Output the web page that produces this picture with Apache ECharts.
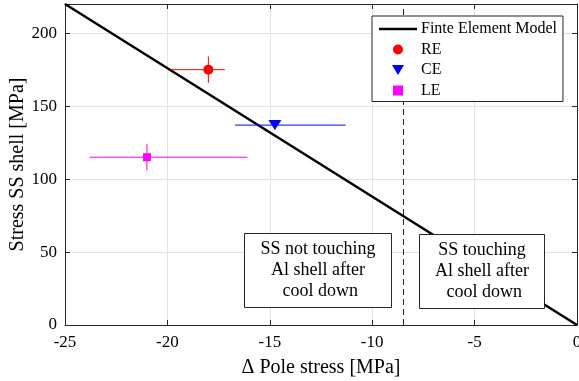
<!DOCTYPE html>
<html>
<head>
<meta charset="utf-8">
<script src="https://cdn.jsdelivr.net/npm/echarts@6/dist/echarts.min.js"></script>
<style>html,body{margin:0;padding:0;background:#fff;}#c{width:579px;height:381px;}</style>
</head>
<body>
<div id="c"></div>
<script>
// ---- data ----
const seriesNames = ['RE', 'CE', 'LE'];
const seriesColors = ['#ff0000', '#0000ff', '#ff00ff'];
const pointX = [-18, -14.75, -21];
const pointY = [175, 137, 115];
const xErrLow = [-19.8, -16.7, -23.8];
const xErrHigh = [-17.2, -11.3, -16.1];
const yErrLow = [166, 134, 106];
const yErrHigh = [184, 140, 124];
const modelName = 'Finte Element Model';
const modelX = [-25, 0];
const modelY = [220, 0];
const boundaryX = -8.5;
const xTickValues = [-25, -20, -15, -10, -5, 0];
const yTickValues = [0, 50, 100, 150, 200];
const xTitle = '\u0394 Pole stress [MPa]';
const yTitle = 'Stress SS shell [MPa]';
const noteLeft = 'SS not touching\nAl shell after\n cool down';
const noteRight = 'SS touching\nAl shell after\n cool down';

const FONT = 'Liberation Serif';
const AX = '#262626';
const chart = echarts.init(document.getElementById('c'), null, {renderer: 'canvas'});

const symbols = ['circle', 'triangle', 'rect'];
const symbolSizes = [10, [13, 10], 8];
const symbolRot = [0, 180, 0];

const series = [];
series.push({
  name: modelName, type: 'line', symbol: 'none',
  data: modelX.map((x, i) => [x, modelY[i]]),
  lineStyle: {color: '#000', width: 2.5}, itemStyle: {color: '#000'},
  z: 3, animation: false,
  markLine: {
    silent: true, symbol: 'none', label: {show: false},
    lineStyle: {color: '#262626', type: [6, 4], width: 1},
    data: [{xAxis: boundaryX}]
  }
});
seriesNames.forEach((n, i) => {
  series.push({
    name: n + '_err', type: 'custom', z: 4, animation: false,
    data: [[pointX[i], pointY[i], xErrLow[i], xErrHigh[i], yErrLow[i], yErrHigh[i]]],
    renderItem: function (params, api) {
      const x = api.value(0), y = api.value(1);
      const a = api.coord([api.value(2), y]), b = api.coord([api.value(3), y]);
      const c = api.coord([x, api.value(4)]), d = api.coord([x, api.value(5)]);
      const st = {stroke: seriesColors[i], lineWidth: 1};
      return {type: 'group', children: [
        {type: 'line', shape: {x1: a[0], y1: a[1], x2: b[0], y2: b[1]}, style: st},
        {type: 'line', shape: {x1: c[0], y1: c[1], x2: d[0], y2: d[1]}, style: st}
      ]};
    }
  });
  series.push({
    name: n, type: 'scatter', z: 5, animation: false,
    symbol: symbols[i], symbolSize: symbolSizes[i], symbolRotate: symbolRot[i],
    itemStyle: {color: seriesColors[i], opacity: 1},
    data: [[pointX[i], pointY[i]]]
  });
});

const axisCommon = {
  axisLine: {show: true, onZero: false, lineStyle: {color: AX, width: 1}},
  axisTick: {show: true, inside: true, length: 5, lineStyle: {color: AX}},
};

chart.setOption({
  backgroundColor: '#fff',
  animation: false,
  textStyle: {fontFamily: FONT},
  grid: {left: 65, right: 2, top: 4, bottom: 56, containLabel: false, outerBoundsMode: 'none'},
  legend: {
    orient: 'vertical', left: 372, top: 16, z: 50,
    backgroundColor: '#fff', borderColor: '#262626', borderWidth: 1,
    padding: [5, 6, 3, 7], itemWidth: 38, itemHeight: 10, itemGap: 4.5,
    textStyle: {fontFamily: FONT, fontSize: 16, color: '#000', padding: [0, 0, 0, -1]},
    data: [
      {name: modelName, icon: 'path://M0,0L38,0L38,2.5L0,2.5Z', itemStyle: {color: '#000'}},
      {name: 'RE', icon: 'circle'},
      {name: 'CE', icon: 'path://M0,0L12,0L6,10Z'},
      {name: 'LE', icon: 'path://M0,0L8,0L8,8L0,8Z'}
    ],
    selectedMode: false
  },
  xAxis: [
    Object.assign({
      type: 'value', min: -25, max: 0, interval: 5, position: 'bottom',
      name: xTitle, nameLocation: 'middle', nameGap: 33, nameMoveOverlap: false,
      nameTextStyle: {fontFamily: FONT, fontSize: 20, color: '#000'},
      axisLabel: {fontFamily: FONT, fontSize: 17, color: '#000', margin: 9},
      splitLine: {show: true, lineStyle: {color: '#e3e3e3', width: 1}}
    }, axisCommon),
    Object.assign({
      type: 'value', min: -25, max: 0, interval: 5, position: 'top',
      axisLabel: {show: false}, splitLine: {show: false}
    }, axisCommon)
  ],
  yAxis: [
    Object.assign({
      type: 'value', min: 0, max: 220, interval: 50, position: 'left',
      name: yTitle, nameLocation: 'middle', nameGap: 37, nameMoveOverlap: false,
      nameTextStyle: {fontFamily: FONT, fontSize: 20, color: '#000'},
      axisLabel: {fontFamily: FONT, fontSize: 17, color: '#000', margin: 8,
        formatter: v => (yTickValues.indexOf(v) >= 0 ? String(v) : '')},
      splitLine: {show: true, lineStyle: {color: '#e3e3e3', width: 1}}
    }, axisCommon),
    Object.assign({
      type: 'value', min: 0, max: 220, interval: 50, position: 'right',
      axisLabel: {show: false}, splitLine: {show: false}
    }, axisCommon)
  ],
  series: series,
  graphic: [
    {type: 'group', left: 244, top: 233, z: 100, children: [
      {type: 'rect', z: 100, shape: {x: 0, y: 0, width: 147, height: 74},
       style: {fill: '#fff', stroke: '#262626', lineWidth: 1}},
      {type: 'text', z: 101, x: 73.5, y: 37, style: {text: noteLeft, fontFamily: FONT, fontSize: 18,
       lineHeight: 21, fill: '#000', align: 'center', verticalAlign: 'middle'}}
    ]},
    {type: 'group', left: 419, top: 234, z: 100, children: [
      {type: 'rect', z: 100, shape: {x: 0, y: 0, width: 125, height: 74},
       style: {fill: '#fff', stroke: '#262626', lineWidth: 1}},
      {type: 'text', z: 101, x: 62.5, y: 37, style: {text: noteRight, fontFamily: FONT, fontSize: 18,
       lineHeight: 21, fill: '#000', align: 'center', verticalAlign: 'middle'}}
    ]}
  ]
});
</script>
</body>
</html>
